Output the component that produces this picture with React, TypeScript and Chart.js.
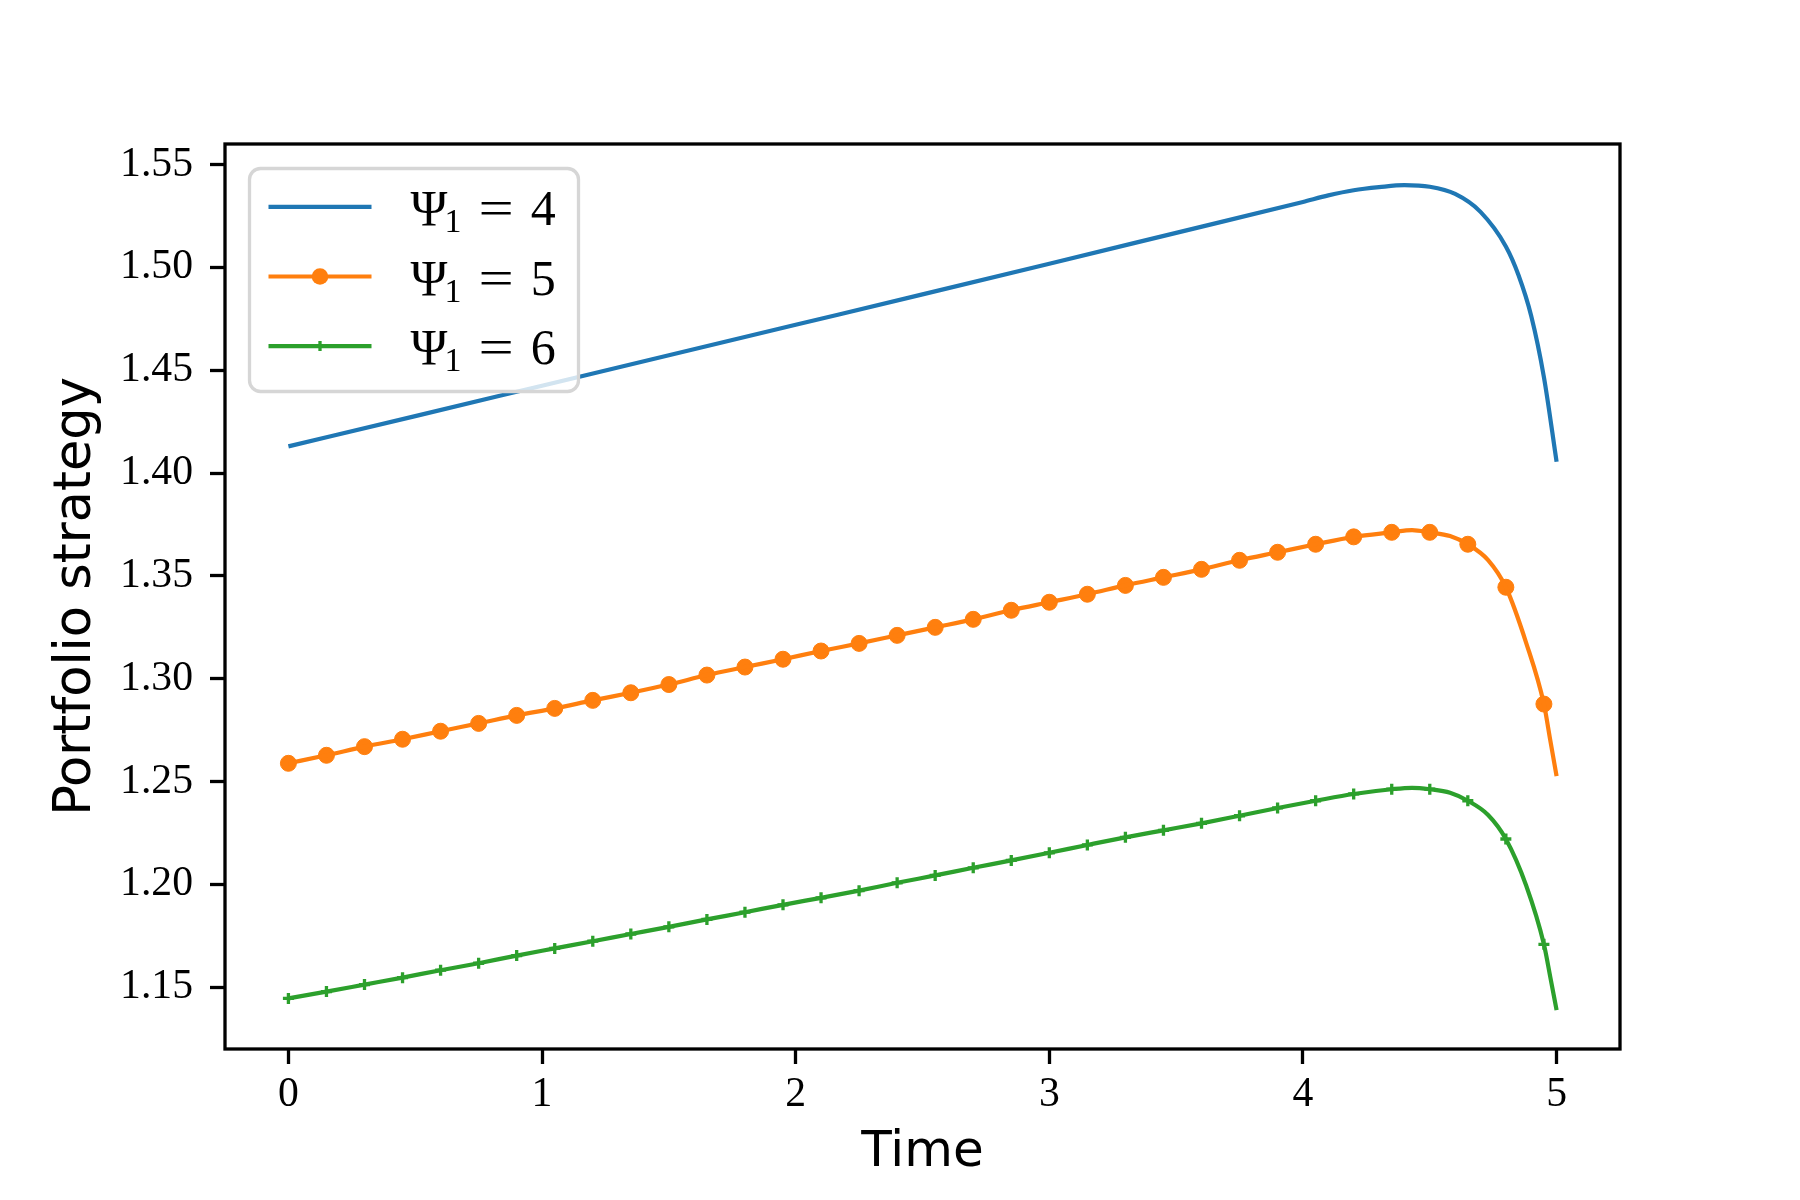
import { useEffect, useRef } from 'react';
import { Chart, registerables } from 'chart.js';

Chart.register(...registerables);

// time grid where the marked series carry a marker (every 0.15)
const markTimes = [
  0, 0.15, 0.3, 0.45, 0.6, 0.75, 0.9, 1.05, 1.2, 1.35,
  1.5, 1.65, 1.8, 1.95, 2.1, 2.25, 2.4, 2.55, 2.7, 2.85,
  3.0, 3.15, 3.3, 3.45, 3.6, 3.75, 3.9, 4.05, 4.2, 4.35,
  4.5, 4.65, 4.8, 4.95,
];
// extra curve samples in the steep tail (no marker)
const tailTimes = [4.43, 4.58, 4.73, 4.88, 4.975, 5.0];

// Psi_1 = 4 (plain line)
const psi4Times = [
  0, 0.5, 1, 1.5, 2, 2.5, 3, 3.5, 4.0, 4.1, 4.2, 4.3, 4.4, 4.5,
  4.6, 4.7, 4.8, 4.85, 4.9, 4.95, 5.0,
];
const psi4Values = [
  1.413, 1.4277, 1.4425, 1.4573, 1.4721, 1.4869, 1.5018, 1.5168, 1.5318, 1.5350,
  1.5375, 1.5390, 1.5400, 1.5392, 1.5357, 1.5270, 1.5102, 1.4962, 1.4764,
  1.4467, 1.4055,
];

// Psi_1 = 5 (circles)
const psi5Marks = [
  1.2589, 1.2628, 1.2670, 1.2706, 1.2745, 1.2783, 1.2822, 1.2856, 1.2895, 1.2932,
  1.2972, 1.3018, 1.3057, 1.3095, 1.3135, 1.3172, 1.3211, 1.3250, 1.3289, 1.3333,
  1.3372, 1.3411, 1.3454, 1.3493, 1.3532, 1.3576, 1.3615, 1.3654, 1.3690, 1.3712,
  1.3712, 1.3654, 1.3445, 1.2877,
];
const psi5Tail = [1.3723, 1.3694, 1.3577, 1.3175, 1.2702, 1.2527];

// Psi_1 = 6 (plus signs)
const psi6Marks = [
  1.1446, 1.1479, 1.1513, 1.1547, 1.1583, 1.1617, 1.1654, 1.1689, 1.1724, 1.1759,
  1.1794, 1.1830, 1.1865, 1.1901, 1.1935, 1.1970, 1.2008, 1.2044, 1.2081, 1.2117,
  1.2154, 1.2192, 1.2229, 1.2263, 1.2297, 1.2334, 1.2372, 1.2407, 1.2440, 1.2463,
  1.2463, 1.2407, 1.2221, 1.1709,
];
const psi6Tail = [1.2470, 1.2446, 1.2338, 1.1995, 1.1551, 1.1389];

const xTicks = [0, 1, 2, 3, 4, 5];
const yTicks = [1.15, 1.2, 1.25, 1.3, 1.35, 1.4, 1.45, 1.5, 1.55];
const seriesLabels = ['Ψ₁ = 4', 'Ψ₁ = 5', 'Ψ₁ = 6'];

const BLUE = '#1f77b4';
const ORANGE = '#ff7f0e';
const GREEN = '#2ca02c';
const SERIF = '"Liberation Serif", "DejaVu Serif", serif';
const SANS = '"DejaVu Sans", sans-serif';

type Pt = { x: number; y: number };

const toPoints = (ts: number[], vs: number[]): Pt[] => ts.map((x, i) => ({ x, y: vs[i] }));
const joinSorted = (a: Pt[], b: Pt[]) => a.concat(b).sort((p, q) => p.x - q.x);

const SUBS: Record<string, string> = { '₀': '0', '₁': '1', '₂': '2', '₃': '3' };

// matplotlib-like spines + legend box
const framePlugin = {
  id: 'mplFrame',
  afterDraw(chart: Chart) {
    const { ctx, chartArea } = chart;
    const { left, top, right, bottom } = chartArea;
    ctx.save();
    ctx.strokeStyle = '#000';
    ctx.lineWidth = 3.3;
    ctx.strokeRect(left, top, right - left, bottom - top);

    // legend
    const bx = left + 24.5;
    const by = top + 24.5;
    const bw = 329;
    const bh = 223;
    ctx.beginPath();
    ctx.roundRect(bx, by, bw, bh, 11);
    ctx.fillStyle = 'rgba(255,255,255,0.8)';
    ctx.fill();
    ctx.strokeStyle = '#d6d6d6';
    ctx.lineWidth = 3.3;
    ctx.stroke();

    const styles = [
      { color: BLUE, marker: 'none' },
      { color: ORANGE, marker: 'circle' },
      { color: GREEN, marker: 'plus' },
    ];
    styles.forEach((s, i) => {
      const cy = by + 38.4 + i * 69.6;
      const hx0 = bx + 19;
      const hx1 = bx + 122;
      ctx.strokeStyle = s.color;
      ctx.lineWidth = 4.2;
      ctx.beginPath();
      ctx.moveTo(hx0, cy);
      ctx.lineTo(hx1, cy);
      ctx.stroke();
      const mx = (hx0 + hx1) / 2;
      if (s.marker === 'circle') {
        ctx.fillStyle = s.color;
        ctx.beginPath();
        ctx.arc(mx, cy, 8.3, 0, Math.PI * 2);
        ctx.fill();
      } else if (s.marker === 'plus') {
        ctx.lineWidth = 3.3;
        ctx.beginPath();
        ctx.moveTo(mx - 5, cy);
        ctx.lineTo(mx + 5, cy);
        ctx.moveTo(mx, cy - 5);
        ctx.lineTo(mx, cy + 5);
        ctx.stroke();
      }

      // label text with subscript
      ctx.fillStyle = '#000';
      ctx.textBaseline = 'alphabetic';
      ctx.textAlign = 'left';
      let x = bx + 161;
      const base = cy + 18;
      seriesLabels[i].split(' ').forEach((part, k) => {
        if (k > 0) x += 17;
        for (const ch of part) {
          if (SUBS[ch]) {
            ctx.font = `34px ${SERIF}`;
            ctx.fillText(SUBS[ch], x - 3, base + 7);
            x += ctx.measureText(SUBS[ch]).width - 3;
          } else if (ch === '=') {
            // wider math-style equals sign
            ctx.font = `50px ${SERIF}`;
            const w = ctx.measureText(ch).width;
            ctx.save();
            ctx.translate(x, base);
            ctx.scale(1.25, 1);
            ctx.fillText(ch, 0, 0);
            ctx.restore();
            x += w * 1.25;
          } else {
            ctx.font = `50px ${SERIF}`;
            ctx.fillText(ch, x, base);
            x += ctx.measureText(ch).width;
          }
        }
      });
    });
    ctx.restore();
  },
};

export default function App() {
  const canvasRef = useRef<HTMLCanvasElement>(null);
  const chartRef = useRef<Chart | null>(null);

  useEffect(() => {
    document.body.style.margin = '0';
    if (!canvasRef.current) return;
    if (chartRef.current) chartRef.current.destroy();

    const lineStyle = {
      borderWidth: 4.2,
      pointRadius: 0,
      cubicInterpolationMode: 'monotone' as const,
      fill: false,
    };

    chartRef.current = new Chart(canvasRef.current, {
      type: 'line',
      data: {
        datasets: [
          {
            label: seriesLabels[0],
            data: toPoints(psi4Times, psi4Values),
            borderColor: BLUE,
            ...lineStyle,
          },
          {
            label: seriesLabels[1],
            data: joinSorted(toPoints(markTimes, psi5Marks), toPoints(tailTimes, psi5Tail)),
            borderColor: ORANGE,
            ...lineStyle,
          },
          {
            label: seriesLabels[1] + ' markers',
            data: toPoints(markTimes, psi5Marks),
            showLine: false,
            pointStyle: 'circle',
            pointRadius: 8,
            pointBorderWidth: 1,
            pointBackgroundColor: ORANGE,
            pointBorderColor: ORANGE,
          },
          {
            label: seriesLabels[2],
            data: joinSorted(toPoints(markTimes, psi6Marks), toPoints(tailTimes, psi6Tail)),
            borderColor: GREEN,
            ...lineStyle,
          },
          {
            label: seriesLabels[2] + ' markers',
            data: toPoints(markTimes, psi6Marks),
            showLine: false,
            pointStyle: 'cross',
            pointRadius: 5.5,
            pointBorderWidth: 3.3,
            pointBorderColor: GREEN,
            pointBackgroundColor: GREEN,
          },
        ],
      },
      options: {
        animation: false,
        responsive: false,
        events: [],
        layout: { padding: { left: 0, top: 144, right: 180, bottom: 0 } },
        plugins: {
          legend: { display: false },
          tooltip: { enabled: false },
        },
        scales: {
          x: {
            type: 'linear',
            min: -0.25,
            max: 5.25,
            afterBuildTicks: (scale) => {
              scale.ticks = xTicks.map((value) => ({ value }));
            },
            afterFit: (scale) => {
              scale.height = 151;
            },
            border: { display: false },
            grid: {
              drawOnChartArea: false,
              drawTicks: true,
              tickLength: 15,
              tickWidth: 3.3,
              tickColor: '#000',
            },
            ticks: {
              autoSkip: false,
              maxRotation: 0,
              padding: 6,
              color: '#000',
              font: { family: SERIF, size: 41.7 },
              callback: (v) => String(v),
            },
            title: {
              display: true,
              text: 'Time',
              color: '#000',
              font: { family: SANS, size: 50 },
              padding: { top: 0, bottom: 17 },
            },
          },
          y: {
            type: 'linear',
            min: 1.12,
            max: 1.56,
            afterBuildTicks: (scale) => {
              scale.ticks = yTicks.map((value) => ({ value }));
            },
            afterFit: (scale) => {
              scale.width = 225;
            },
            border: { display: false },
            grid: {
              drawOnChartArea: false,
              drawTicks: true,
              tickLength: 15,
              tickWidth: 3.3,
              tickColor: '#000',
            },
            ticks: {
              autoSkip: false,
              padding: 17,
              color: '#000',
              font: { family: SERIF, size: 41.7 },
              callback: (v) => Number(v).toFixed(2),
            },
            title: {
              display: true,
              text: 'Portfolio strategy',
              color: '#000',
              font: { family: SANS, size: 51 },
              padding: { top: 46, bottom: 0 },
            },
          },
        },
      },
      plugins: [framePlugin],
    });

    return () => {
      chartRef.current?.destroy();
      chartRef.current = null;
    };
  }, []);

  return (
    <div style={{ width: 1800, height: 1200, background: '#fff' }}>
      <canvas
        ref={canvasRef}
        width={1800}
        height={1200}
        style={{ display: 'block', width: 1800, height: 1200 }}
        role="img"
        aria-label="Portfolio strategy over time"
      />
    </div>
  );
}
